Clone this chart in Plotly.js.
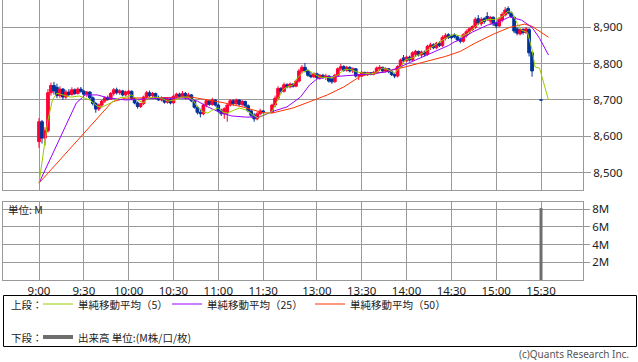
<!DOCTYPE html>
<html><head><meta charset="utf-8">
<script src="https://cdn.plot.ly/plotly-3.0.1.min.js"></script>
<style>html,body{margin:0;padding:0;background:#fff}#chart{width:638px;height:362px}</style>
</head><body><div id="chart"></div>
<script>
// ---- data (2-minute bars) ----
const barMinutes = 2;
const amStart = "9:00";
const pmStart = "12:30";
const amOpen  = [8585,8640,8595,8615,8720,8740,8735,8712,8730,8708,8722,8715,8728,8718,8730,8724,8716,8722,8706,8690,8675,8686,8697,8706,8702,8718,8728,8720,8725,8714,8718,8724,8704,8692,8682,8690,8708,8720,8712,8718,8706,8700,8706,8694,8702,8692,8710,8716,8710,8718,8706,8714,8698,8680,8666,8662,8686,8698,8688,8700,8686,8670,8662,8664,8686,8698,8690,8700,8688,8696,8684,8670,8658,8648,8662,8670];
const amHigh  = [8650,8645,8625,8730,8748,8750,8745,8738,8733,8728,8730,8735,8732,8735,8736,8728,8725,8724,8710,8695,8690,8700,8710,8712,8722,8733,8734,8730,8728,8726,8728,8726,8708,8696,8692,8712,8725,8726,8722,8720,8712,8710,8708,8708,8705,8714,8720,8720,8725,8722,8720,8716,8700,8684,8676,8690,8702,8700,8706,8702,8690,8676,8680,8690,8702,8702,8704,8702,8700,8698,8688,8674,8664,8668,8676,8672];
const amLow   = [8568,8580,8575,8610,8712,8715,8705,8705,8700,8702,8710,8712,8714,8715,8720,8712,8708,8702,8685,8665,8670,8680,8692,8698,8700,8712,8715,8714,8710,8710,8712,8700,8688,8676,8678,8686,8704,8708,8706,8702,8698,8696,8690,8690,8688,8690,8705,8706,8708,8702,8702,8694,8676,8660,8652,8658,8680,8684,8684,8682,8666,8656,8648,8640,8682,8684,8686,8684,8682,8680,8666,8652,8640,8644,8658,8662];
const amClose = [8640,8595,8615,8720,8740,8725,8712,8730,8708,8722,8715,8728,8718,8730,8724,8716,8722,8706,8690,8675,8686,8697,8706,8702,8718,8728,8720,8725,8714,8722,8724,8704,8692,8682,8690,8708,8720,8712,8718,8706,8700,8706,8694,8702,8692,8710,8716,8710,8718,8706,8714,8698,8680,8666,8662,8686,8698,8688,8700,8686,8670,8662,8676,8686,8698,8690,8700,8688,8696,8684,8670,8658,8648,8662,8670,8666];
const pmOpen  = [8666,8686,8705,8732,8724,8742,8736,8744,8738,8752,8780,8790,8780,8768,8764,8772,8762,8768,8762,8766,8758,8750,8768,8786,8792,8782,8790,8780,8786,8766,8766,8776,8770,8775,8771,8776,8786,8790,8780,8786,8778,8770,8766,8792,8816,8808,8818,8810,8826,8834,8824,8832,8826,8846,8852,8844,8856,8850,8870,8880,8876,8880,8874,8868,8862,8878,8888,8894,8900,8924,8910,8924,8930,8918,8928,8912,8904,8920,8934,8952,8940,8928,8896,8882,8894,8886,8894,8830];
const pmHigh  = [8690,8712,8738,8736,8748,8746,8748,8746,8756,8786,8796,8802,8784,8778,8776,8775,8772,8772,8772,8768,8762,8772,8790,8800,8796,8794,8793,8790,8788,8772,8780,8778,8778,8777,8780,8792,8796,8792,8790,8788,8780,8774,8796,8814,8824,8822,8822,8834,8838,8836,8836,8836,8852,8858,8856,8860,8862,8878,8884,8884,8880,8884,8878,8872,8884,8894,8900,8906,8928,8934,8928,8928,8942,8932,8930,8916,8928,8942,8956,8958,8944,8930,8900,8898,8898,8900,8898,8835];
const pmLow   = [8664,8680,8700,8718,8720,8732,8732,8734,8735,8748,8774,8776,8764,8760,8760,8758,8756,8758,8755,8748,8745,8748,8764,8780,8778,8778,8776,8774,8762,8755,8764,8768,8766,8768,8768,8772,8780,8776,8776,8774,8766,8760,8762,8788,8804,8804,8806,8808,8818,8820,8818,8820,8822,8838,8840,8840,8846,8846,8864,8868,8868,8870,8862,8856,8858,8872,8882,8890,8896,8906,8904,8910,8918,8910,8904,8898,8900,8914,8930,8936,8926,8884,8878,8878,8880,8882,8820,8764];
const pmClose = [8686,8705,8732,8724,8742,8736,8744,8738,8752,8780,8790,8780,8768,8764,8772,8762,8768,8762,8766,8752,8750,8768,8786,8792,8782,8790,8780,8786,8766,8768,8776,8772,8775,8771,8776,8788,8790,8780,8786,8778,8770,8766,8792,8810,8808,8818,8810,8830,8834,8824,8832,8826,8848,8852,8844,8856,8850,8872,8878,8872,8872,8874,8866,8862,8880,8888,8896,8902,8922,8912,8922,8916,8922,8928,8910,8904,8922,8936,8948,8940,8930,8890,8884,8894,8886,8896,8830,8780];
const closeTime = "15:30";
const closePrice = 8700;

const volTimes  = ["15:30"];
const volValues = [8.1];   // M

const ma5Times  = ["9:00","9:03","9:06","9:09","9:12","9:16","9:21","9:27","9:34","9:39","9:42","9:48","9:54","9:58","10:02","10:06","10:10","10:13","10:18","10:22","10:26","10:31","10:36","10:40","10:43","10:46","10:50","10:53","10:56","11:00","11:03","11:06","11:10","11:14","11:19","11:23","11:27","11:30","12:30","12:33","12:37","12:40","12:44","12:47","12:51","12:54","12:57","13:02","13:07","13:10","13:14","13:18","13:22","13:27","13:31","13:36","13:39","13:44","13:48","13:52","13:56","13:59","14:04","14:08","14:12","14:17","14:21","14:26","14:30","14:32","14:37","14:41","14:46","14:50","14:54","14:59","15:04","15:08","15:11","15:14","15:17","15:21","15:24","15:26","15:29","15:35"];
const ma5Values = [8471,8554,8645,8700,8719,8714,8708,8711,8700,8683,8680,8692,8706,8708,8714,8700,8692,8705,8708,8705,8697,8700,8708,8708,8700,8681,8667,8664,8672,8678,8667,8664,8672,8678,8672,8659,8650,8659,8668,8692,8728,8736,8741,8761,8777,8783,8774,8763,8763,8761,8769,8783,8785,8777,8774,8772,8774,8788,8783,8774,8791,8810,8816,8824,8832,8846,8857,8870,8878,8881,8875,8883,8902,8916,8922,8922,8930,8945,8939,8911,8892,8886,8838,8791,8788,8700];
const ma25Times  = ["9:00","9:25","9:31","9:39","9:46","9:54","9:58","10:20","10:38","10:46","10:53","11:02","11:09","11:18","11:27","11:30","12:30","12:40","12:49","12:55","13:00","13:07","13:18","13:29","13:36","13:46","13:54","14:06","14:17","14:28","14:32","14:36","14:44","14:54","15:01","15:09","15:17","15:24","15:29","15:35"];
const ma25Values = [8471,8692,8714,8714,8706,8703,8700,8705,8705,8697,8681,8664,8656,8653,8653,8657,8668,8681,8708,8741,8758,8763,8766,8769,8772,8777,8788,8810,8829,8850,8860,8866,8887,8906,8914,8929,8920,8900,8870,8824];
const ma50Times  = ["9:00","9:49","9:58","10:31","10:42","10:53","11:04","11:16","11:27","11:30","12:30","12:44","12:55","13:07","13:18","13:29","13:36","13:46","13:59","14:12","14:26","14:36","14:46","14:59","15:09","15:19","15:24","15:28","15:35"];
const ma50Values = [8471,8695,8705,8708,8708,8700,8692,8681,8667,8665,8664,8678,8695,8714,8736,8765,8772,8778,8791,8805,8820,8834,8857,8883,8900,8909,8903,8892,8873];

const xTickLabels = ["9:00","9:30","10:00","10:30","11:00","11:30","13:00","13:30","14:00","14:30","15:00","15:30"];
const priceTicks = [8500,8600,8700,8800,8900];
const volTicks = [2,4,6,8];
const volTickLabels = ["2M","4M","6M","8M"];

// ---- helpers ----
const W = 638, H = 362;
const px = v => v / W;
const py = v => 1 - v / H;
// session time -> axis position (lunch break compressed)
function toX(t) {
  const [h, m] = t.split(':').map(Number);
  const mins = h * 60 + m - 540;
  return mins <= 150 ? mins : mins - 54;
}

const cx = [], co = [], ch = [], cl = [], cc = [];
amOpen.forEach((o, i) => { cx.push(toX(amStart) + barMinutes * i); co.push(o); ch.push(amHigh[i]); cl.push(amLow[i]); cc.push(amClose[i]); });
pmOpen.forEach((o, j) => { cx.push(toX(pmStart) + barMinutes * j); co.push(o); ch.push(pmHigh[j]); cl.push(pmLow[j]); cc.push(pmClose[j]); });
cx.push(toX(closeTime)); co.push(closePrice); ch.push(closePrice); cl.push(closePrice); cc.push(closePrice);

const RED = '#ff0033', BLUE = '#003399';
const C5 = '#99cc00', C25 = '#9900ff', C50 = '#ff3300', GRAY = '#6e6e6e', GRID = '#999999';
const FONT = 'Noto Sans, Noto Sans CJK JP, sans-serif';
const CJK = 'Noto Sans CJK JP, Noto Sans, sans-serif';

const traces = [
  { type: 'candlestick', x: cx, open: co, high: ch, low: cl, close: cc, xaxis: 'x', yaxis: 'y',
    increasing: { line: { color: RED, width: 1 }, fillcolor: RED },
    decreasing: { line: { color: BLUE, width: 1 }, fillcolor: BLUE },
    whiskerwidth: 0, hoverinfo: 'skip' },
  { type: 'scatter', mode: 'lines', x: ma50Times.map(toX), y: ma50Values, line: { color: C50, width: 1 }, xaxis: 'x', yaxis: 'y', hoverinfo: 'skip' },
  { type: 'scatter', mode: 'lines', x: ma25Times.map(toX), y: ma25Values, line: { color: C25, width: 1 }, xaxis: 'x', yaxis: 'y', hoverinfo: 'skip' },
  { type: 'scatter', mode: 'lines', x: ma5Times.map(toX), y: ma5Values, line: { color: C5, width: 1 }, xaxis: 'x', yaxis: 'y', hoverinfo: 'skip' },
  { type: 'bar', x: volTimes.map(toX), y: volValues, width: barMinutes, marker: { color: GRAY, line: { width: 0 } }, xaxis: 'x2', yaxis: 'y2', hoverinfo: 'skip' }
];

const xTickVals = xTickLabels.map(toX);
const xRange = [-24.1, 364.1];
const xDomain = [px(3), px(583)];
const axBase = { showgrid: true, gridcolor: GRID, gridwidth: 1, showline: true, linecolor: GRID, linewidth: 1, mirror: true, zeroline: false, fixedrange: true };
const tickFont = { family: FONT, size: 11.5, color: '#222' };

const legendY1 = 304, legendY2 = 337;
const shapes = [
  { type: 'rect', xref: 'paper', yref: 'paper', x0: px(3.5), x1: px(636.5), y0: py(346.5), y1: py(295.5), line: { color: '#000', width: 1 } },
  { type: 'line', xref: 'paper', yref: 'paper', x0: px(43), x1: px(73), y0: py(legendY1), y1: py(legendY1), line: { color: C5, width: 1 } },
  { type: 'line', xref: 'paper', yref: 'paper', x0: px(172), x1: px(202), y0: py(legendY1), y1: py(legendY1), line: { color: C25, width: 1 } },
  { type: 'line', xref: 'paper', yref: 'paper', x0: px(315), x1: px(345), y0: py(legendY1), y1: py(legendY1), line: { color: C50, width: 1 } },
  { type: 'line', xref: 'paper', yref: 'paper', x0: px(43), x1: px(73), y0: py(legendY2), y1: py(legendY2), line: { color: GRAY, width: 4 } }
];
const ann = (text, x, y, anchor, color, size, fam) => ({ text, xref: 'paper', yref: 'paper', x: px(x), y: py(y), xanchor: anchor || 'left', yanchor: 'middle', showarrow: false, borderpad: 0, font: { family: fam || CJK, size: size || 10.5, color: color || '#222' } });
const annotations = [
  ann('単位: M', 7, 209, 'left', '#222', 10.5),
  ann('上段：', 10, legendY1),
  ann('単純移動平均（5）', 77, legendY1),
  ann('単純移動平均（25）', 206, legendY1),
  ann('単純移動平均（50）', 349, legendY1),
  ann('下段：', 10, legendY2),
  ann('出来高 単位:(M株/口/枚)', 77, legendY2),
  ann('(c)Quants Research Inc.', 630, 354, 'right', '#555', 10, FONT)
];

const layout = {
  width: W, height: H, margin: { l: 0, r: 0, t: 0, b: 0, pad: 0 },
  paper_bgcolor: '#fff', plot_bgcolor: '#fff', showlegend: false,
  boxgap: 0.1, boxgroupgap: 0,
  font: { family: FONT, size: 11, color: '#222' },
  xaxis: Object.assign({}, axBase, { domain: xDomain, range: xRange, tickmode: 'array', tickvals: xTickVals, showticklabels: false, ticks: '', anchor: 'y', rangeslider: { visible: false } }),
  yaxis: Object.assign({}, axBase, { domain: [py(190), 1], range: [8452, 8975.5], side: 'right', tickmode: 'array', tickvals: priceTicks, tickformat: ',', ticks: 'outside', ticklen: 7, tickcolor: GRID, tickfont: tickFont, anchor: 'x' }),
  xaxis2: Object.assign({}, axBase, { domain: xDomain, range: xRange, tickmode: 'array', tickvals: xTickVals, ticktext: xTickLabels, ticks: '', tickfont: tickFont, anchor: 'y2' }),
  yaxis2: Object.assign({}, axBase, { domain: [py(280), py(202)], range: [0, 8.79], side: 'right', tickmode: 'array', tickvals: volTicks, ticktext: volTickLabels, ticks: 'outside', ticklen: 6, tickcolor: GRID, tickfont: tickFont, anchor: 'x2' }),
  shapes, annotations
};

Plotly.newPlot('chart', traces, layout, { staticPlot: true, displayModeBar: false });
</script></body></html>
